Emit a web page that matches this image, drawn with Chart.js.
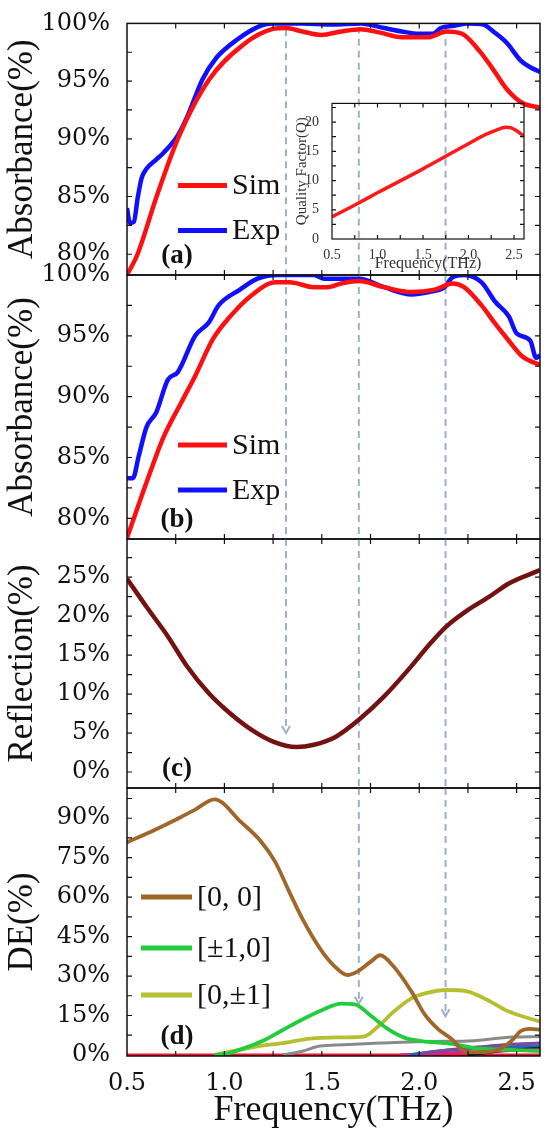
<!DOCTYPE html>
<html>
<head>
<meta charset="utf-8">
<script src="https://cdn.jsdelivr.net/npm/chart.js@4.4.0/dist/chart.umd.min.js"></script>
<style>
  html, body { margin: 0; padding: 0; background: #fff; }
  #wrap { position: relative; width: 548px; height: 1136px; overflow: hidden; }
  canvas { position: absolute; left: 0; top: 0; }
</style>
</head>
<body>
<div id="wrap">
  <canvas id="chartA" width="548" height="1136"></canvas>
  <canvas id="chartB" width="548" height="1136"></canvas>
  <canvas id="chartC" width="548" height="1136"></canvas>
  <canvas id="chartD" width="548" height="1136"></canvas>
  <canvas id="inset" width="250" height="190" style="left:280px;top:90px"></canvas>
</div>
<script>
/* ── shared frequency axis (THz) ───────────────────────────── */
const freqMin = 0.5, freqMax = 2.62;
const freqTicks = [0.5, 1.0, 1.5, 2.0, 2.5];
const markerFreqs = [1.316, 1.69, 2.135];

/* ── (a) absorbance ───────────────────────────────────────── */
const absTicks = [80, 85, 90, 95, 100];
const simAFreq = [0.5, 0.554, 0.652, 0.761, 0.92, 1.10, 1.245, 1.316, 1.40, 1.497, 1.60, 1.697, 1.80, 1.91, 2.045, 2.14, 2.22, 2.31, 2.38, 2.45, 2.53, 2.62];
const simAVal  = [78.2, 80, 85, 90, 95.1, 98.2, 99.5, 99.6, 99.3, 99.0, 99.3, 99.5, 99.2, 98.8, 98.8, 99.3, 99.1, 97.6, 96.0, 94.3, 93.1, 92.7];
const expAFreq = [0.5, 0.515, 0.535, 0.555, 0.575, 0.6, 0.65, 0.688, 0.761, 0.814, 0.886, 0.958, 1.066, 1.173, 1.245, 1.40, 1.55, 1.70, 1.82, 1.91, 2.0, 2.07, 2.11, 2.18, 2.25, 2.33, 2.38, 2.45, 2.52, 2.57, 2.62];
const expAVal  = [84.0, 82.7, 82.8, 84.9, 86.6, 87.4, 88.2, 88.8, 90.3, 92.1, 95.1, 97.0, 98.6, 99.7, 100, 100, 99.9, 100, 99.6, 99.3, 99.1, 99.1, 99.6, 99.8, 100, 99.9, 99.3, 98.3, 96.8, 96.2, 95.8];

/* ── (a) inset: quality factor ─────────────────────────────── */
const qTicks = [0, 5, 10, 15, 20];
const qFreq = [0.5, 0.81, 1.0, 1.5, 1.755, 2.0, 2.19, 2.3, 2.41, 2.47, 2.52, 2.61];
const qVal  = [3.8, 6.3, 7.9, 12.0, 14.2, 16.3, 17.9, 18.6, 19.1, 19.0, 18.6, 17.6];

/* ── (b) absorbance ───────────────────────────────────────── */
const simBFreq = [0.5, 0.599, 0.688, 0.778, 0.85, 0.94, 1.03, 1.137, 1.263, 1.335, 1.46, 1.53, 1.60, 1.69, 1.82, 1.96, 2.08, 2.17, 2.23, 2.32, 2.39, 2.46, 2.53, 2.62];
const simBVal  = [78.4, 82.9, 86.7, 89.5, 91.7, 94.7, 96.6, 98.3, 99.4, 99.4, 99.0, 99.0, 99.3, 99.5, 99.0, 98.6, 98.8, 99.3, 99.0, 97.5, 96.0, 94.6, 93.3, 92.6];
const expBFreq = [0.5, 0.53, 0.56, 0.6, 0.65, 0.71, 0.76, 0.85, 0.92, 0.97, 1.08, 1.17, 1.28, 1.46, 1.51, 1.69, 1.82, 1.96, 2.05, 2.13, 2.17, 2.23, 2.32, 2.39, 2.46, 2.5, 2.57, 2.60, 2.62];
const expBVal  = [83.3, 83.3, 85.1, 87.5, 88.7, 91.4, 92.0, 95.0, 96.1, 97.5, 98.8, 99.7, 100, 100, 99.7, 99.7, 99.0, 98.4, 98.6, 99.0, 99.8, 100, 99.4, 97.8, 96.6, 95.2, 94.6, 93.2, 93.4];

/* ── (c) reflection ───────────────────────────────────────── */
const refTicks = [0, 5, 10, 15, 20, 25];
const refFreq = [0.5, 0.6, 0.71, 0.81, 0.92, 1.03, 1.14, 1.25, 1.37, 1.46, 1.57, 1.69, 1.82, 1.95, 2.05, 2.14, 2.25, 2.36, 2.46, 2.62];
const refVal  = [24.8, 21.2, 17.4, 13.5, 10.1, 7.5, 5.4, 3.9, 3.2, 3.5, 4.5, 6.7, 9.7, 13.3, 16.3, 18.7, 20.8, 22.5, 24.2, 25.9];

/* ── (d) diffraction efficiency ───────────────────────────── */
const deTicks = [0, 15, 30, 45, 60, 75, 90];
const de00Freq = [0.5, 0.65, 0.76, 0.85, 0.949, 1.086, 1.19, 1.26, 1.33, 1.40, 1.49, 1.56, 1.63, 1.68, 1.75, 1.80, 1.87, 1.96, 2.03, 2.10, 2.17, 2.21, 2.26, 2.35, 2.42, 2.48, 2.52, 2.57, 2.62];
const de00Val  = [80.8, 85.8, 89.8, 93.3, 97.2, 88.5, 81.0, 73.5, 62.5, 51.8, 40.5, 34.1, 30.4, 31.6, 35.4, 37.9, 33.5, 24.1, 15.2, 9.6, 5.8, 2.6, 1.0, 1.2, 2.5, 5.8, 9.0, 9.9, 9.6];
const de10Freq = [0.95, 1.0, 1.1, 1.2, 1.3, 1.4, 1.5, 1.6, 1.67, 1.75, 1.84, 1.93, 2.02, 2.14, 2.19, 2.30, 2.45, 2.62];
const de10Val  = [0, 0.3, 2.5, 5.5, 9.5, 13.5, 17.0, 19.5, 19.2, 15.0, 9.8, 6.4, 5.2, 4.5, 3.9, 2.5, 2.0, 1.5];
const de01Freq = [0.95, 1.17, 1.30, 1.44, 1.61, 1.72, 1.79, 1.87, 1.96, 2.03, 2.14, 2.24, 2.35, 2.46, 2.62];
const de01Val  = [0, 3.3, 4.5, 6.2, 6.7, 7.1, 10.9, 16.5, 21.5, 23.4, 24.7, 24.3, 20.9, 16.5, 12.7];
const deGrayFreq = [1.30, 1.40, 1.49, 1.61, 1.80, 2.14, 2.22, 2.48, 2.62];
const deGrayVal  = [0, 1.4, 3.4, 3.9, 4.5, 5.2, 5.2, 6.8, 7.0];
const dePurpFreq = [2.0, 2.15, 2.3, 2.45, 2.62];
const dePurpVal  = [0.5, 2.0, 3.0, 4.0, 4.5];
const deBlueFreq = [1.95, 2.10, 2.30, 2.50, 2.62];
const deBlueVal  = [0, 1.5, 2.5, 3.2, 3.5];
const deMagFreq  = [1.9, 2.1, 2.3, 2.5, 2.62];
const deMagVal   = [0, 0.6, 1.2, 1.8, 2.0];
const deBlackFreq = [2.25, 2.4, 2.5, 2.62];
const deBlackVal  = [0, 1.5, 2.2, 2.6];
const deZeroFreq = [0.5, 2.62];
const deZeroVal  = [0, 0];

/* ── helpers ──────────────────────────────────────────────── */
const tickFont  = { family: '"DejaVu Serif", serif', size: 24 };
const titleFont = { family: '"Liberation Serif", serif', size: 35 };

function series(label, xs, ys, color, width) {
    return {
        label: label,
        data: xs.map((x, i) => ({ x: x, y: ys[i] })),
        borderColor: color,
        borderWidth: width,
        pointRadius: 0,
        fill: false,
        cubicInterpolationMode: 'monotone',
    };
}

function minorSteps(ticks, min, max) {
    const step = (ticks[1] - ticks[0]) / 2;
    const out = [];
    for (let v = ticks[0] - step * Math.floor((ticks[0] - min) / step); v <= max + 1e-9; v += step) out.push(v);
    return out;
}

/* frame with inward ticks on all four sides */
const framePlugin = {
    id: 'frame',
    afterDraw(chart, args, opts) {
        const { ctx, chartArea: a, scales: { x, y } } = chart;
        const len = opts.len || 5;
        ctx.save();
        ctx.strokeStyle = '#111';
        ctx.lineWidth = opts.width || 1.5;
        ctx.strokeRect(a.left, a.top, a.right - a.left, a.bottom - a.top);
        ctx.lineWidth = 1.2;
        ctx.beginPath();
        minorSteps(opts.xTicks, x.min, x.max).forEach(v => {
            const px = x.getPixelForValue(v);
            if (px < a.left + 2 || px > a.right - 2) return;
            ctx.moveTo(px, a.top); ctx.lineTo(px, a.top + len);
            ctx.moveTo(px, a.bottom); ctx.lineTo(px, a.bottom - len);
        });
        minorSteps(opts.yTicks, y.min, y.max).forEach(v => {
            const py = y.getPixelForValue(v);
            if (py < a.top + 2 || py > a.bottom - 2) return;
            ctx.moveTo(a.left, py); ctx.lineTo(a.left + len, py);
            ctx.moveTo(a.right, py); ctx.lineTo(a.right - len, py);
        });
        ctx.stroke();
        ctx.restore();
    }
};

/* dashed guide arrows across the panels */
const markerPlugin = {
    id: 'markers',
    beforeDatasetsDraw(chart, args, opts) {
        if (!opts.spans) return;
        const { ctx, chartArea: a, scales: { x, y } } = chart;
        ctx.save();
        ctx.strokeStyle = '#9fb0cf';
        ctx.lineWidth = 2;
        opts.spans.forEach((span, i) => {
            if (!span) return;
            const px = x.getPixelForValue(markerFreqs[i]);
            const y0 = span[0] == null ? a.top : y.getPixelForValue(span[0]);
            const y1 = span[1] == null ? a.bottom : y.getPixelForValue(span[1]);
            ctx.setLineDash([7, 5]);
            ctx.beginPath(); ctx.moveTo(px, y0); ctx.lineTo(px, y1); ctx.stroke();
            if (span[1] != null) {
                ctx.setLineDash([]);
                ctx.beginPath();
                ctx.moveTo(px - 4, y1 - 7); ctx.lineTo(px, y1); ctx.lineTo(px + 4, y1 - 7);
                ctx.stroke();
            }
        });
        ctx.restore();
    }
};

/* legend drawn inside the plot area */
const innerLegend = {
    id: 'innerLegend',
    afterDatasetsDraw(chart, args, opts) {
        if (!opts.rows) return;
        const { ctx, chartArea: a } = chart;
        ctx.save();
        ctx.font = '30px "Liberation Serif", serif';
        ctx.textBaseline = 'middle';
        ctx.fillStyle = '#111';
        opts.rows.forEach((dy, i) => {
            const ds = chart.data.datasets[i];
            const yy = a.top + dy;
            ctx.strokeStyle = ds.borderColor;
            ctx.lineWidth = 5;
            ctx.beginPath();
            ctx.moveTo(a.left + opts.x0, yy); ctx.lineTo(a.left + opts.x1, yy);
            ctx.stroke();
            ctx.fillText(ds.label, a.left + opts.textX, yy + 1);
        });
        ctx.restore();
    }
};

/* "(a)" … "(d)" tags */
const panelTag = {
    id: 'panelTag',
    afterDatasetsDraw(chart, args, opts) {
        if (!opts.text) return;
        const { ctx, chartArea: a } = chart;
        ctx.save();
        ctx.font = 'bold 27px "Liberation Serif", serif';
        ctx.textAlign = 'center';
        ctx.textBaseline = 'middle';
        ctx.fillStyle = '#111';
        ctx.fillText(opts.text, a.left + 50, a.bottom - 19);
        ctx.restore();
    }
};

function panel(id, p) {
    return new Chart(document.getElementById(id).getContext('2d'), {
        type: 'line',
        data: { datasets: p.datasets },
        options: {
            responsive: false,
            animation: false,
            events: [],
            layout: { padding: { top: p.top, bottom: p.bottom, left: 0, right: 8 } },
            scales: {
                x: {
                    type: 'linear', min: freqMin, max: freqMax, display: !!p.showX,
                    afterBuildTicks: s => { s.ticks = freqTicks.map(v => ({ value: v })); },
                    afterFit: s => { if (p.showX) s.height = 80; },
                    grid: { display: false }, border: { display: false },
                    ticks: { font: tickFont, color: '#111', padding: 5, maxRotation: 0, autoSkip: false,
                             callback: v => v.toFixed(1) },
                    title: { display: true, text: 'Frequency(THz)', font: { family: '"Liberation Serif", serif', size: 36 },
                             color: '#111', padding: { top: 0, bottom: 4 } }
                },
                y: {
                    type: 'linear', min: p.yMin, max: p.yMax,
                    afterBuildTicks: s => { s.ticks = p.yTicks.map(v => ({ value: v })); },
                    afterFit: s => { s.width = 127; },
                    grid: { display: false }, border: { display: false },
                    ticks: { font: tickFont, color: '#111', padding: 9, autoSkip: false, callback: v => v + '%' },
                    title: { display: true, text: p.yTitle, font: titleFont, color: '#111', padding: { top: 2, bottom: 0 } }
                }
            },
            plugins: {
                legend: { display: false },
                tooltip: { enabled: false },
                frame: { xTicks: freqTicks, yTicks: p.yTicks },
                markers: { spans: p.spans },
                innerLegend: p.legend || {},
                panelTag: { text: p.tag }
            }
        },
        plugins: [markerPlugin, innerLegend, panelTag, framePlugin]
    });
}

document.addEventListener('DOMContentLoaded', function () {

    /* ── (a) ─────────────────────────────────────────── */
    panel('chartA', {
        top: 11, bottom: 1136 - 275, yMin: 78.2, yMax: 100, yTicks: absTicks,
        yTitle: 'Absorbance(%)', tag: '(a)',
        spans: [[99.5, null], [99.7, null], [99.7, null]],
        legend: { rows: [162, 207], x0: 51, x1: 100, textX: 105 },
        datasets: [
            series('Sim', simAFreq, simAVal, '#ff1010', 4.5),
            series('Exp', expAFreq, expAVal, '#1010ff', 4.5),
        ]
    });

    /* ── (b) ─────────────────────────────────────────── */
    panel('chartB', {
        top: 275, bottom: 1136 - 539, yMin: 78.3, yMax: 100, yTicks: absTicks,
        yTitle: 'Absorbance(%)', tag: '(b)',
        spans: [[null, null], [null, null], [null, null]],
        legend: { rows: [170, 215], x0: 51, x1: 100, textX: 105 },
        datasets: [
            series('Sim', simBFreq, simBVal, '#ff1010', 4.5),
            series('Exp', expBFreq, expBVal, '#1010ff', 4.5),
        ]
    });

    /* ── (c) ─────────────────────────────────────────── */
    panel('chartC', {
        top: 539, bottom: 1136 - 788, yMin: -2.05, yMax: 29.9, yTicks: refTicks,
        yTitle: 'Reflection(%)', tag: '(c)',
        spans: [[null, 5], [null, null], [null, null]],
        datasets: [
            series('Reflection', refFreq, refVal, '#741212', 4.5),
        ]
    });

    /* ── (d) ─────────────────────────────────────────── */
    panel('chartD', {
        top: 788, bottom: 0, showX: true, yMin: -0.4, yMax: 101.5, yTicks: deTicks,
        yTitle: 'DE(%)', tag: '(d)',
        spans: [null, [null, 19.5], [null, 14.7]],
        legend: { rows: [109, 160, 207], x0: 14, x1: 65, textX: 70 },
        datasets: [
            series('[0, 0]', de00Freq, de00Val, '#a0672a', 3.8),
            series('[\u00b11,0]', de10Freq, de10Val, '#22cc3c', 3.8),
            series('[0,\u00b11]', de01Freq, de01Val, '#b6be32', 3.8),
            series('other 1', deGrayFreq, deGrayVal, '#8a8a8a', 3),
            series('other 2', dePurpFreq, dePurpVal, '#7a4aa0', 3),
            series('other 3', deBlueFreq, deBlueVal, '#2a62c0', 3),
            series('other 4', deMagFreq, deMagVal, '#e0207a', 3),
            series('other 5', deBlackFreq, deBlackVal, '#000000', 3.5),
            series('other 6', deZeroFreq, deZeroVal, '#ff1030', 3),
        ]
    });

    /* ── inset: quality factor ───────────────────────── */
    const insetFont = { family: '"Liberation Serif", serif', size: 14 };
    new Chart(document.getElementById('inset').getContext('2d'), {
        type: 'line',
        data: { datasets: [series('Q', qFreq, qVal, '#ff1a1a', 3.5)] },
        options: {
            responsive: false,
            animation: false,
            events: [],
            layout: { padding: { top: 7, bottom: 0, left: 0, right: 6 } },
            scales: {
                x: {
                    type: 'linear', min: 0.5, max: 2.61,
                    afterBuildTicks: s => { s.ticks = freqTicks.map(v => ({ value: v })); },
                    afterFit: s => { s.height = 41; },
                    grid: { display: false }, border: { display: false },
                    ticks: { font: insetFont, color: '#333', padding: 0, maxRotation: 0, autoSkip: false,
                             callback: v => v.toFixed(1) },
                    title: { display: true, text: 'Frequency(THz)', font: { family: '"Liberation Serif", serif', size: 16 },
                             color: '#333', padding: { top: 0, bottom: 7 } }
                },
                y: {
                    type: 'linear', min: 0, max: 23.2,
                    afterBuildTicks: s => { s.ticks = qTicks.map(v => ({ value: v })); },
                    afterFit: s => { s.width = 52; },
                    grid: { display: false }, border: { display: false },
                    ticks: { font: insetFont, color: '#333', padding: 5, autoSkip: false },
                    title: { display: true, text: 'Quality Factor(Q)', font: { family: '"Liberation Serif", serif', size: 15 },
                             color: '#333', padding: { top: 13, bottom: 0 } }
                }
            },
            plugins: {
                legend: { display: false },
                tooltip: { enabled: false },
                frame: { xTicks: freqTicks, yTicks: qTicks, len: 4, width: 1.2 }
            }
        },
        plugins: [framePlugin]
    });
});
</script>
</body>
</html>
